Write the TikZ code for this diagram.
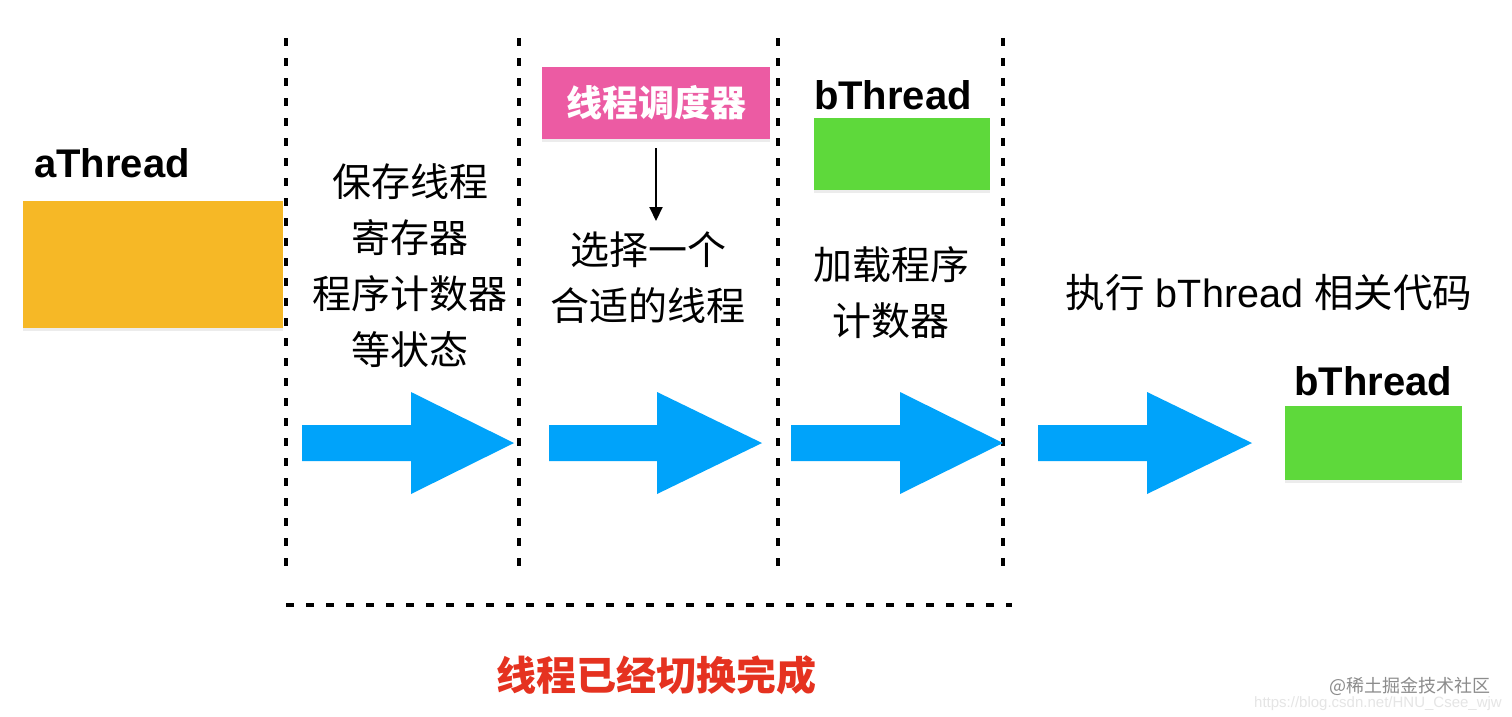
\documentclass[tikz,border=0pt]{standalone}
\usepackage{fontspec}
\setmainfont{Liberation Sans}
\newfontfamily\cjk{Noto Sans CJK SC}
\usetikzlibrary{arrows.meta,shadows}
\definecolor{orangebox}{HTML}{F6B826}
\definecolor{pinkbox}{HTML}{EC5BA3}
\definecolor{greenbox}{HTML}{5ED93B}
\definecolor{bluearrow}{HTML}{00A3FA}
\definecolor{redtext}{HTML}{E53220}
\tikzset{
  sep/.style={line width=4pt, dash pattern=on 8pt off 12pt, black},
  box/.style={draw=none, inner sep=0pt, drop shadow={shadow xshift=0pt, shadow yshift=-3pt, opacity=0.15}},
  lbl/.style={font=\fontsize{40}{48}\selectfont\bfseries, inner sep=0pt},
  cjktext/.style={font=\cjk\fontsize{39}{56}\selectfont, align=center, inner sep=0pt},
  bigarrow/.style={fill=bluearrow, draw=none},
  wm/.style={inner sep=0pt, anchor=east}
}
\begin{document}
\begin{tikzpicture}[x=1pt,y=-1pt]
\useasboundingbox (0,0) rectangle (1512,716);
\fill[white] (0,0) rectangle (1512,716);

% separators
\draw[sep] (286,38) -- (286,568);
\draw[sep] (519,38) -- (519,568);
\draw[sep] (778,38) -- (778,568);
\draw[sep] (1003,38) -- (1003,568);
\draw[sep] (286,605) -- (1012,605);

% aThread
\node[lbl] (alabel) at (112,163) {aThread};
\node[box, fill=orangebox, minimum width=260pt, minimum height=127pt] (abox) at (153,264.5) {};

% scheduler
\node[box, fill=pinkbox, minimum width=228pt, minimum height=72pt,
      font=\cjk\fontsize{36}{40}\selectfont\bfseries, text=white] (sched) at (656,103) {线程调度器};
\coordinate (arrS) at (656,148);
\coordinate (arrE) at (656,221);
\draw[line width=2pt, -{Triangle[length=14pt,width=13pt]}] (arrS) -- (arrE);

% top bThread
\node[lbl] (blabel1) at (893,95) {bThread};
\node[box, fill=greenbox, minimum width=176pt, minimum height=72pt] (bbox1) at (902,154) {};

% texts
\node[cjktext] (t1) at (410,266) {保存线程\\寄存器\\程序计数器\\等状态};
\node[cjktext] (t2) at (648,278) {选择一个\\合适的线程};
\node[cjktext] (t3) at (891,293) {加载程序\\计数器};
\node[inner sep=0pt, font=\fontsize{39.5}{46}\selectfont] (t4) at (1269,293) {{\cjk 执行} bThread {\cjk 相关代码}};

% bottom bThread
\node[lbl] (blabel2) at (1373,381) {bThread};
\node[box, fill=greenbox, minimum width=177pt, minimum height=74pt] (bbox2) at (1373.5,443) {};

% blue arrows
\foreach \xa/\xb/\xc in {302/411/514, 549/657/762, 791/900/1003, 1038/1147/1252}{
  \fill[bigarrow] (\xa,425) -- (\xb,425) -- (\xb,392) -- (\xc,443) -- (\xb,494) -- (\xb,461) -- (\xa,461) -- cycle;
}

% bottom caption
\node[inner sep=0pt, font=\cjk\fontsize{40}{48}\selectfont\bfseries, text=redtext] (cap) at (656,675) {线程已经切换完成};

% watermark
\node[wm, text=black!45, font=\cjk\fontsize{18}{22}\selectfont] (wm1) at (1491,686) {@稀土掘金技术社区};
\node[wm, text=black!10, font=\fontsize{15}{18}\selectfont] (wm2) at (1502,704) {https://blog.csdn.net/HNU\_Csee\_wjw};
\end{tikzpicture}
\end{document}
